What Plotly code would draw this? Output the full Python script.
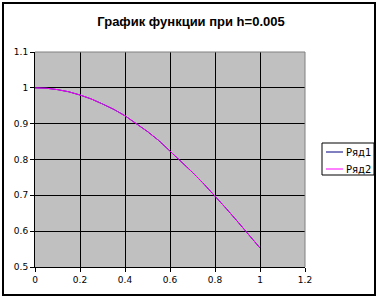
import plotly.graph_objects as go

title_text = "График функции при h=0.005"
series_names = ["Ряд1", "Ряд2"]
series_colors = ["#000080", "#FF00FF"]

x_vals = [0.0, 0.05, 0.1, 0.15, 0.2, 0.25, 0.3, 0.35, 0.4, 0.45, 0.5,
          0.55, 0.6, 0.65, 0.7, 0.75, 0.8, 0.85, 0.9, 0.95, 1.0]
ryad1 = [1.000, 0.999, 0.995, 0.989, 0.980, 0.969, 0.955, 0.940, 0.922, 0.901, 0.878,
         0.853, 0.824, 0.795, 0.764, 0.732, 0.699, 0.663, 0.627, 0.590, 0.553]
ryad2 = [1.000, 0.999, 0.995, 0.989, 0.980, 0.969, 0.955, 0.940, 0.922, 0.901, 0.878,
         0.853, 0.824, 0.795, 0.764, 0.732, 0.699, 0.663, 0.627, 0.590, 0.553]

W, H = 380, 300
L, R, T, B = 35, 305, 52, 267  # plot area in pixels


def px(xp):
    return (xp - L) / (R - L)


def py(yp):
    return (B - yp) / (B - T)


fig = go.Figure()
for name, ys, col in zip(series_names, [ryad1, ryad2], series_colors):
    fig.add_trace(go.Scatter(x=x_vals, y=ys, mode="lines", name=name,
                             line=dict(color=col, width=1), showlegend=False))

tick_font = dict(family="DejaVu Sans", size=9, color="black")
fig.update_layout(
    width=W, height=H,
    margin=dict(l=L, r=W - R, t=T, b=H - B),
    paper_bgcolor="white",
    plot_bgcolor="#C0C0C0",
    title=dict(text="<b>" + title_text + "</b>", x=(191) / W, xanchor="center",
               y=1 - 21 / H, yanchor="middle",
               font=dict(family="Liberation Sans", size=13, color="black")),
    xaxis=dict(range=[0, 1.2], dtick=0.2, tick0=0, showgrid=True, gridcolor="black",
               gridwidth=1, zeroline=False, showline=True, linecolor="black", linewidth=1,
               ticks="outside", ticklen=4, tickcolor="black", tickfont=tick_font),
    yaxis=dict(range=[0.5, 1.1], dtick=0.1, tick0=0.5, showgrid=True, gridcolor="black",
               gridwidth=1, zeroline=False, showline=True, linecolor="black", linewidth=1,
               ticks="outside", ticklen=4, tickcolor="black", tickfont=tick_font),
    showlegend=False,
)

shapes = []
# plot area top/right border (gray)
shapes.append(dict(type="line", xref="paper", yref="paper", x0=0, x1=1, y0=1, y1=1,
                   line=dict(color="#808080", width=1)))
shapes.append(dict(type="line", xref="paper", yref="paper", x0=1, x1=1, y0=0, y1=1,
                   line=dict(color="#808080", width=1)))
# chart outer border
shapes.append(dict(type="rect", xref="paper", yref="paper",
                   x0=px(3), x1=px(375), y0=py(295), y1=py(3),
                   line=dict(color="black", width=2)))
# legend box
shapes.append(dict(type="rect", xref="paper", yref="paper",
                   x0=px(322), x1=px(374), y0=py(175), y1=py(143),
                   line=dict(color="black", width=1), fillcolor="white"))
annotations = []
for i, (name, col) in enumerate(zip(series_names, series_colors)):
    yy = 152 + i * 17
    shapes.append(dict(type="line", xref="paper", yref="paper",
                       x0=px(326), x1=px(343), y0=py(yy), y1=py(yy),
                       line=dict(color=col, width=1)))
    annotations.append(dict(text=name, xref="paper", yref="paper", x=px(344), y=py(yy),
                            xanchor="left", yanchor="middle", showarrow=False,
                            font=dict(family="DejaVu Sans", size=10, color="black")))
fig.update_layout(shapes=shapes, annotations=annotations)

fig.write_html("out.html")
